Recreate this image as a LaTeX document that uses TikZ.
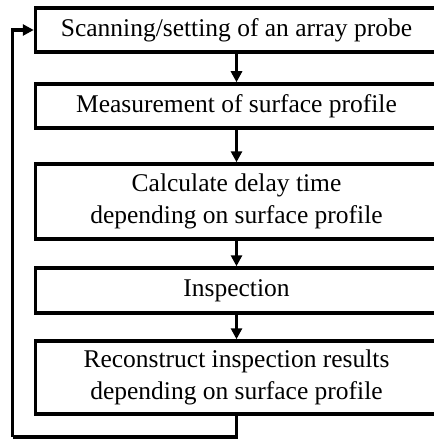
\documentclass[tikz,border=0pt]{standalone}
\usepackage{fontspec}
\setmainfont{Liberation Serif}
\usetikzlibrary{arrows.meta}

\tikzset{
  stepbox/.style={draw, line width=3.5pt, minimum width=402pt, inner sep=0pt,
    align=center, font=\fontsize{25.5}{32}\selectfont},
  flow/.style={line width=3.5pt, -{Triangle[length=11pt,width=11pt]}},
}

\begin{document}
\begin{tikzpicture}[x=1pt, y=-1pt]
  \useasboundingbox (0,0) rectangle (433,441);

  % process steps (boxes run past the right margin)
  \node[stepbox, minimum height=44pt] (scan) at (236.5,30) {Scanning/setting of an array probe};
  \node[stepbox, minimum height=44pt] (meas) at (236.5,106) {Measurement of surface profile};
  \node[stepbox, minimum height=75pt] (delay) at (236.5,201.5) {Calculate delay time\\depending on surface profile};
  \node[stepbox, minimum height=45pt] (insp) at (236.5,290.5) {Inspection};
  \node[stepbox, minimum height=73pt] (recon) at (236.5,377.5) {Reconstruct inspection results\\depending on surface profile};

  % main flow
  \draw[flow] (scan) -- (meas);
  \draw[flow] (meas) -- (delay);
  \draw[flow] (delay) -- (insp);
  \draw[flow] (insp) -- (recon);

  % feedback loop back to the first step
  \coordinate (loopcorner) at (12.5,437);
  \draw[line width=3.5pt] (recon.south) |- (loopcorner);
  \draw[flow] (loopcorner) |- (scan.west);
\end{tikzpicture}
\end{document}
